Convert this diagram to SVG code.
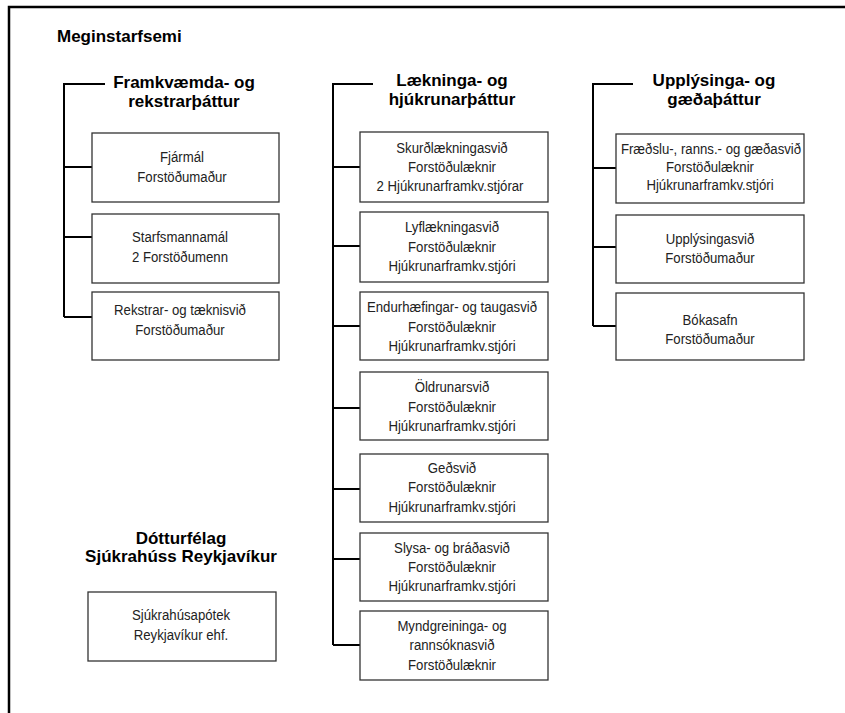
<svg xmlns="http://www.w3.org/2000/svg" width="845" height="713" viewBox="0 0 845 713">
<style>
.bg{fill:#fff}
.frame{fill:none;stroke:#000;stroke-width:2.5}
.box{fill:#fff;stroke:#333;stroke-width:1.3}
.conn{fill:none;stroke:#000;stroke-width:2}
.h{font-family:"Liberation Sans",Arial,sans-serif;font-weight:bold;font-size:17px;fill:#000;text-anchor:middle}
.t{font-family:"Liberation Sans",Arial,sans-serif;font-size:15px;fill:#222;text-anchor:middle;transform-box:fill-box;transform-origin:center;transform:scaleX(0.88)}
</style>
<rect class="bg" x="0" y="0" width="845" height="713"/>
<path class="frame" d="M9,713 V7 H845"/>
<text class="h" x="57" y="42" style="text-anchor:start">Meginstarfsemi</text>

<g id="connectors">
<path class="conn" d="M105,84 H64 V317 M64,167 H92 M64,237 H92 M64,317 H92"/>
<path class="conn" d="M373,84 H333 V645 M333,167 H360 M333,246 H360 M333,326 H360 M333,408 H360 M333,489 H360 M333,559 H360 M333,645 H360"/>
<path class="conn" d="M633,84 H593 V326 M593,168 H616 M593,247 H616 M593,326 H616"/>
</g>

<g id="hdr1"><text class="h" x="184" y="88">Framkvæmda- og</text><text class="h" x="184" y="107">rekstrarþáttur</text></g>
<g id="hdr2"><text class="h" x="452" y="86">Lækninga- og</text><text class="h" x="452" y="105">hjúkrunarþáttur</text></g>
<g id="hdr3"><text class="h" x="714" y="86">Upplýsinga- og</text><text class="h" x="714" y="105">gæðaþáttur</text></g>
<g id="hdr4"><text class="h" x="181" y="544">Dótturfélag</text><text class="h" x="181" y="562">Sjúkrahúss Reykjavíkur</text></g>

<g id="fjarmal"><rect class="box" x="92" y="133" width="187" height="69"/><text class="t" x="182" y="162">Fjármál</text><text class="t" x="182" y="182">Forstöðumaður</text></g>
<g id="starfsmannamal"><rect class="box" x="92" y="214" width="187" height="69"/><text class="t" x="180" y="242">Starfsmannamál</text><text class="t" x="180" y="262">2 Forstöðumenn</text></g>
<g id="rekstrar"><rect class="box" x="92" y="292" width="187" height="68"/><text class="t" x="180" y="315">Rekstrar- og tæknisvið</text><text class="t" x="180" y="335">Forstöðumaður</text></g>

<g id="skurd"><rect class="box" x="360" y="132" width="188" height="70"/><text class="t" x="452" y="153">Skurðlækningasvið</text><text class="t" x="452" y="172">Forstöðulæknir</text><text class="t" x="450" y="191">2 Hjúkrunarframkv.stjórar</text></g>
<g id="lyf"><rect class="box" x="360" y="212" width="188" height="70"/><text class="t" x="452" y="232">Lyflækningasvið</text><text class="t" x="452" y="252">Forstöðulæknir</text><text class="t" x="452" y="271">Hjúkrunarframkv.stjóri</text></g>
<g id="endurh"><rect class="box" x="360" y="292" width="188" height="68"/><text class="t" x="452" y="312">Endurhæfingar- og taugasvið</text><text class="t" x="452" y="332">Forstöðulæknir</text><text class="t" x="452" y="351">Hjúkrunarframkv.stjóri</text></g>
<g id="oldrun"><rect class="box" x="360" y="372" width="188" height="68"/><text class="t" x="452" y="392">Öldrunarsvið</text><text class="t" x="452" y="412">Forstöðulæknir</text><text class="t" x="452" y="431">Hjúkrunarframkv.stjóri</text></g>
<g id="geds"><rect class="box" x="360" y="454" width="188" height="68"/><text class="t" x="452" y="473">Geðsvið</text><text class="t" x="452" y="492">Forstöðulæknir</text><text class="t" x="452" y="512">Hjúkrunarframkv.stjóri</text></g>
<g id="slysa"><rect class="box" x="360" y="533" width="188" height="68"/><text class="t" x="452" y="553">Slysa- og bráðasvið</text><text class="t" x="452" y="572">Forstöðulæknir</text><text class="t" x="452" y="591">Hjúkrunarframkv.stjóri</text></g>
<g id="mynd"><rect class="box" x="360" y="611" width="188" height="69"/><text class="t" x="452" y="631">Myndgreininga- og</text><text class="t" x="452" y="650">rannsóknasvið</text><text class="t" x="452" y="670">Forstöðulæknir</text></g>

<g id="fraedslu"><rect class="box" x="616" y="134" width="188" height="69"/><text class="t" x="711" y="154">Fræðslu-, ranns.- og gæðasvið</text><text class="t" x="710" y="172">Forstöðulæknir</text><text class="t" x="710" y="190">Hjúkrunarframkv.stjóri</text></g>
<g id="upplys"><rect class="box" x="616" y="215" width="188" height="68"/><text class="t" x="710" y="244">Upplýsingasvið</text><text class="t" x="710" y="263">Forstöðumaður</text></g>
<g id="bokasafn"><rect class="box" x="616" y="293" width="188" height="67"/><text class="t" x="710" y="325">Bókasafn</text><text class="t" x="710" y="344">Forstöðumaður</text></g>

<g id="apotek"><rect class="box" x="88" y="592" width="188" height="69"/><text class="t" x="181" y="620">Sjúkrahúsapótek</text><text class="t" x="181" y="640">Reykjavíkur ehf.</text></g>
</svg>
